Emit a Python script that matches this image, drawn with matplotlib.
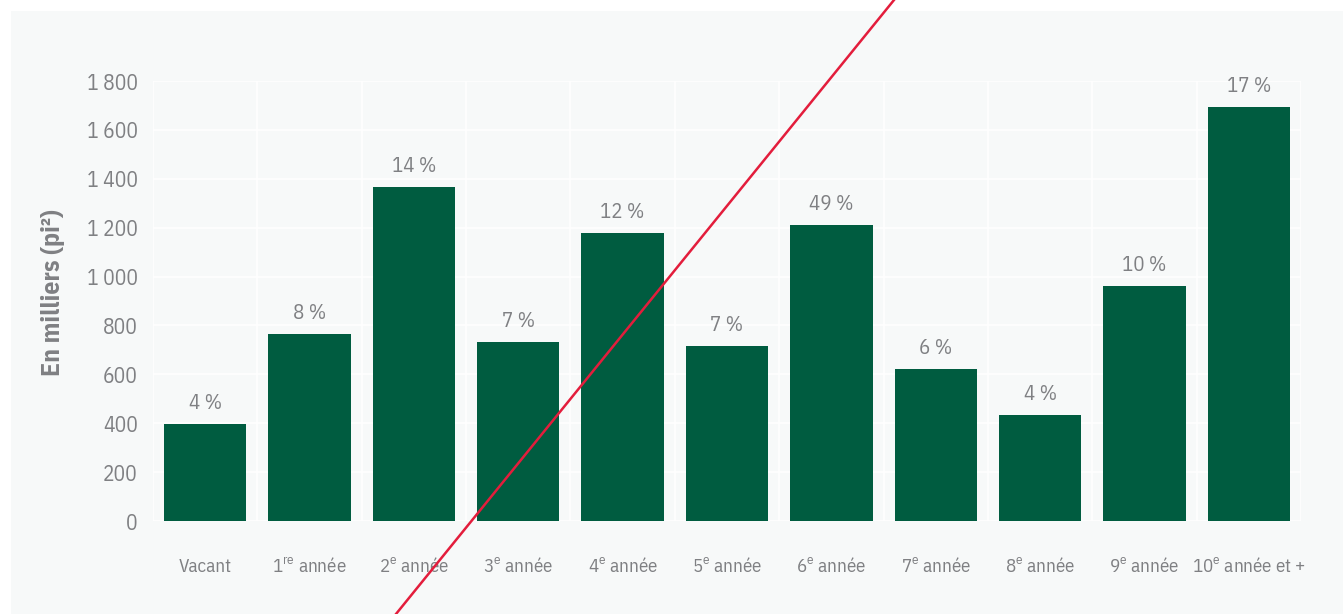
import matplotlib.pyplot as plt
from matplotlib.patches import Rectangle
from matplotlib.lines import Line2D

plt.rcParams['font.family'] = ['IBM Plex Sans Condensed', 'DejaVu Sans']
plt.rcParams['mathtext.fontset'] = 'custom'
plt.rcParams['mathtext.rm'] = 'IBM Plex Sans Condensed'

annees = ['Vacant', r'1$^{\mathrm{re}}$ année', r'2$^{\mathrm{e}}$ année', r'3$^{\mathrm{e}}$ année',
          r'4$^{\mathrm{e}}$ année', r'5$^{\mathrm{e}}$ année', r'6$^{\mathrm{e}}$ année',
          r'7$^{\mathrm{e}}$ année', r'8$^{\mathrm{e}}$ année', r'9$^{\mathrm{e}}$ année',
          r'10$^{\mathrm{e}}$ année et +']
superficie = [395, 765, 1366, 732, 1178, 716, 1211, 622, 434, 961, 1692]
pourcent = ['4 %', '8 %', '14 %', '7 %', '12 %', '7 %', '49 %', '6 %', '4 %', '10 %', '17 %']
yticks = [0, 200, 400, 600, 800, 1000, 1200, 1400, 1600, 1800]
ytick_labels = ['0', '200', '400', '600', '800', '1 000', '1 200', '1 400', '1 600', '1 800']

gris = '#7f8083'
vert = '#005c40'
fond = '#f7f9f9'

fig = plt.figure(figsize=(13.43, 6.14), dpi=100)
fig.patch.set_facecolor('white')
fig.patches.append(Rectangle((11 / 1343, 0), 1, 603 / 614, transform=fig.transFigure,
                             facecolor=fond, edgecolor='none', zorder=-5))

ax = fig.add_axes([153 / 1343, 93 / 614, 1148 / 1343, 440 / 614])
ax.set_facecolor(fond)
x = range(len(annees))
ax.bar(x, superficie, width=0.79, color=vert, zorder=3)
for i, (v, p) in enumerate(zip(superficie, pourcent)):
    ax.annotate(p, (i, v), xytext=(0, 8), textcoords='offset points',
                ha='center', va='bottom', fontsize=15, color=gris)

ax.set_xlim(-0.5, len(annees) - 0.5)
ax.set_ylim(0, 1800)
ax.set_yticks(yticks)
ax.set_yticklabels(ytick_labels)
ax.set_xticks(x)
ax.set_xticklabels(annees)
ax.set_xticks([i - 0.5 for i in range(len(annees) + 1)], minor=True)
ax.grid(True, which='minor', axis='x', color='white', lw=1.2, zorder=1)
ax.grid(True, which='major', axis='y', color='white', lw=1.2, zorder=1)
ax.tick_params(axis='both', which='both', length=0)
ax.tick_params(axis='y', labelsize=15.5, labelcolor=gris, pad=11)
ax.tick_params(axis='x', labelsize=13.7, labelcolor=gris, pad=37)
# même ligne de base pour toutes les étiquettes, avec ou sans exposant
for lbl in ax.get_xticklabels():
    lbl.set_verticalalignment('baseline')
for s in ax.spines.values():
    s.set_visible(False)
ax.set_ylabel('En milliers (pi²)', fontsize=18.5, fontweight='bold', color=gris)
ax.yaxis.set_label_coords(-0.077, 0.52)

# trait rouge en travers de la figure
fig.add_artist(Line2D([396 / 1343, 894 / 1343], [0, 1], transform=fig.transFigure,
                      color='#e31d3c', lw=1.8, zorder=10))

fig.savefig('out.png', dpi=100, facecolor=fig.get_facecolor())
